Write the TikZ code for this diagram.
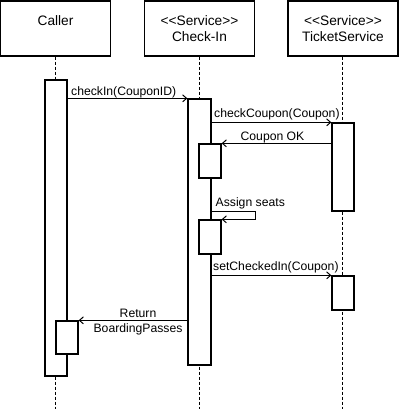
\documentclass[tikz,border=0pt]{standalone}
\usepackage{fontspec}
\setmainfont{Liberation Sans}
\usepackage{tikz}
\usetikzlibrary{arrows.meta, positioning, calc}

\begin{document}
\begin{tikzpicture}[
    x=1pt, y=-1pt,
    head/.style={draw, line width=1.3pt, minimum width=110pt, minimum height=55pt, inner sep=0pt, align=center, font=\fontsize{13.7}{16}\selectfont},
    act/.style={draw, fill=white, line width=1.3pt, minimum width=22pt, inner sep=0pt},
    life/.style={line width=1pt, dash pattern=on 3pt off 2pt},
    msg/.style={-{Straight Barb[length=4pt, width=7pt]}, line width=1pt},
    lbl/.style={font=\fontsize{12.2}{14}\selectfont, inner sep=0pt},
]
    \useasboundingbox (0,0) rectangle (400,409);
    \coordinate (bot) at (0,409);

    % lifeline heads
    \node[head, text depth=16pt] (caller) at (55.5,28.5) {Caller};
    \node[head] (checkin) at (199.5,28.5) {<\kern0pt<Service>\kern0pt>\\Check-In};
    \node[head] (ticket) at (343,28.5) {<\kern0pt<Service>\kern0pt>\\TicketService};

    \draw[life] (caller) -- (caller |- bot);
    \draw[life] (checkin) -- (checkin |- bot);
    \draw[life] (ticket.south -| 342.5,0) -- (342.5,409);

    % activations
    \node[act, minimum height=296pt] (callAct) at (56,228) {};
    \node[act, minimum height=266pt, minimum width=23pt] (checkAct) at (199.5,232) {};
    \node[act, minimum height=88pt] (tkAct1) at (343,167) {};
    \node[act, minimum height=34pt] (nest1) at (210,161) {};
    \node[act, minimum height=34pt] (nest2) at (210,237) {};
    \node[act, minimum height=34pt] (tkAct2) at (343,293) {};
    \node[act, minimum height=33pt] (callNest) at (67,337.5) {};
    \coordinate (seat) at (255,211);

    % messages
    \draw[msg] (callAct.east |- checkAct.north) -- (checkAct.north west)
        node[lbl, pos=0, anchor=base west, xshift=3pt, yshift=2.5pt] {checkIn(CouponID)};
    \draw[msg] (checkAct.east |- tkAct1.north) -- (tkAct1.north west)
        node[lbl, pos=0, anchor=base west, xshift=2pt, yshift=5pt] {checkCoupon(Coupon)};
    \draw[msg] (tkAct1.west |- nest1.north) -- (nest1.north east)
        node[lbl, midway, anchor=base, xshift=-4pt, yshift=3pt] {Coupon OK};
    \draw[msg] (checkAct.east |- seat) -- (seat) |- (nest2.north east);
    \node[lbl, anchor=base west] at (215.5,206.5) {Assign seats};
    \draw[msg] (checkAct.east |- tkAct2.north) -- (tkAct2.north west)
        node[lbl, pos=0, anchor=base west, xshift=1pt, yshift=5pt] {setCheckedIn(Coupon)};
    \draw[msg] (checkAct.west |- callNest.north) -- (callNest.north east)
        node[lbl, midway, anchor=base, xshift=5pt, yshift=3pt] {Return}
        node[lbl, midway, anchor=base, xshift=5pt, yshift=-12pt] {BoardingPasses};
\end{tikzpicture}
\end{document}
